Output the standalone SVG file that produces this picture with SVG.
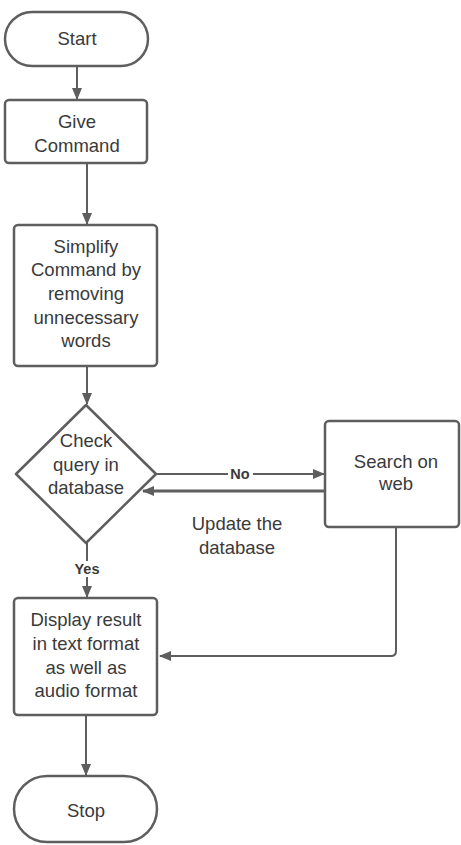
<svg xmlns="http://www.w3.org/2000/svg" width="461" height="845" viewBox="0 0 461 845">
<defs>
<style>
.n{fill:#fff;stroke:#5e5e5e;stroke-width:2.5}
.t{font-family:"Liberation Sans",Arial,sans-serif;font-size:18.5px;fill:#3a3a3a;text-anchor:middle}
.l{font-family:"Liberation Sans",Arial,sans-serif;font-size:14.5px;font-weight:bold;fill:#3a3a3a;text-anchor:middle}
.c{fill:none;stroke:#5e5e5e;stroke-width:2}
</style>
<marker id="a" markerWidth="12" markerHeight="12" refX="11" refY="6" orient="auto" markerUnits="userSpaceOnUse"><path d="M0,1 L12,6 L0,11 Z" fill="#5e5e5e"/></marker>
</defs>
<rect width="461" height="845" fill="#fff"/>
<g id="connectors">
<path class="c" d="M77,66 V99" marker-end="url(#a)"/>
<path class="c" d="M87,163 V224" marker-end="url(#a)"/>
<path class="c" d="M87,366 V404" marker-end="url(#a)"/>
<path class="c" d="M156,474 H324" marker-end="url(#a)"/>
<rect x="228" y="465" width="25" height="16" fill="#fff"/>
<text class="l" x="240" y="479">No</text>
<path class="c" style="stroke-width:3" d="M325,491 H143" marker-end="url(#a)"/>
<path class="c" d="M87,543 V597" marker-end="url(#a)"/>
<rect x="70" y="561" width="34" height="16" fill="#fff"/>
<text class="l" x="87" y="574">Yes</text>
<path class="c" d="M396,527 V651 Q396,656 391,656 H160" marker-end="url(#a)"/>
<path class="c" d="M86,715 V775" marker-end="url(#a)"/>
<text class="t" x="237" y="530">Update the</text>
<text class="t" x="237" y="554">database</text>
</g>
<g id="start">
<rect class="n" x="5" y="12" width="143" height="54" rx="27"/>
<text class="t" x="77" y="45">Start</text>
</g>
<g id="give">
<rect class="n" x="5" y="100" width="142" height="63" rx="4"/>
<text class="t" x="77" y="128">Give</text>
<text class="t" x="77" y="152">Command</text>
</g>
<g id="simplify">
<rect class="n" x="14" y="225" width="143" height="141" rx="4"/>
<text class="t" x="86" y="253">Simplify</text>
<text class="t" x="86" y="276">Command by</text>
<text class="t" x="86" y="300">removing</text>
<text class="t" x="86" y="324">unnecessary</text>
<text class="t" x="86" y="347">words</text>
</g>
<g id="check">
<path class="n" d="M86,405 L156,474 L86,543 L16,474 Z" stroke-linejoin="round"/>
<text class="t" x="86" y="447">Check</text>
<text class="t" x="86" y="471">query in</text>
<text class="t" x="86" y="494">database</text>
</g>
<g id="search">
<rect class="n" x="325" y="421" width="134" height="106" rx="4"/>
<text class="t" x="396" y="468">Search on</text>
<text class="t" x="396" y="490">web</text>
</g>
<g id="display">
<rect class="n" x="14" y="598" width="143" height="117" rx="4"/>
<text class="t" x="86" y="626">Display result</text>
<text class="t" x="86" y="650">in text format</text>
<text class="t" x="86" y="674">as well as</text>
<text class="t" x="86" y="697">audio format</text>
</g>
<g id="stop">
<rect class="n" x="14" y="776" width="143" height="66" rx="33"/>
<text class="t" x="86" y="817">Stop</text>
</g>
</svg>
